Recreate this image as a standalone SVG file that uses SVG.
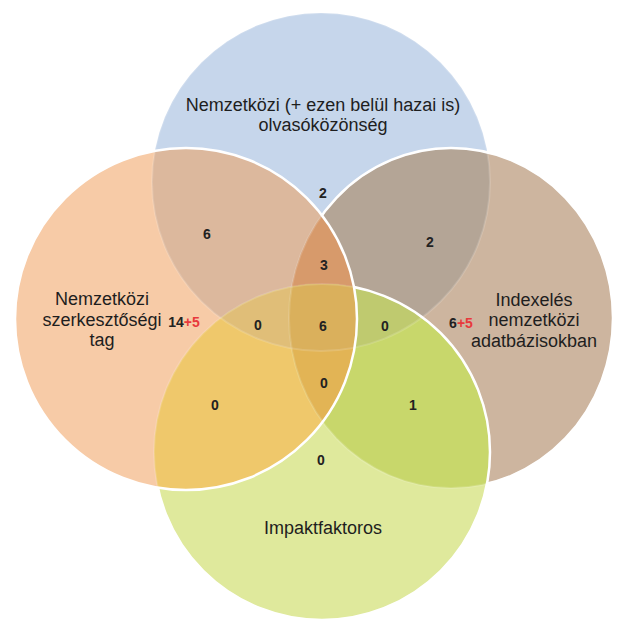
<svg xmlns="http://www.w3.org/2000/svg" width="622" height="626" viewBox="0 0 622 626">
<style>
.lbl{font-family:"Liberation Sans",Arial,sans-serif;font-size:18px;fill:#1e1e1e;text-anchor:middle}
.num{font-family:"Liberation Sans",Arial,sans-serif;font-size:14px;font-weight:bold;fill:#222;text-anchor:middle}
.red{fill:#e8393c}
.edge{fill:none;stroke:#fff;stroke-width:2.5}
.faint{fill:none;stroke:#fff;stroke-width:2;stroke-opacity:0.15}
</style>
<defs>
<circle id="B" cx="321" cy="182" r="169"/>
<circle id="O" cx="186" cy="319" r="171"/>
<ellipse id="R" cx="451" cy="318" rx="162" ry="170"/>
<circle id="G" cx="322" cy="452" r="168"/>
<clipPath id="cB"><use href="#B"/></clipPath>
<clipPath id="cO"><use href="#O"/></clipPath>
<clipPath id="cR"><use href="#R"/></clipPath>
<clipPath id="cG"><use href="#G"/></clipPath>
<mask id="mOutO" maskUnits="userSpaceOnUse" x="0" y="0" width="622" height="626">
<rect x="0" y="0" width="622" height="626" fill="#fff"/>
<use href="#O" fill="#000"/>
</mask>
<mask id="mOutOG" maskUnits="userSpaceOnUse" x="0" y="0" width="622" height="626">
<rect x="0" y="0" width="622" height="626" fill="#fff"/>
<use href="#O" fill="#000"/>
<use href="#G" fill="#000"/>
</mask>
</defs>
<rect x="0" y="0" width="622" height="626" fill="#fff"/>
<g id="venn-regions">
<use href="#B" fill="#c6d6eb"/>
<use href="#R" fill="#cdb59f"/>
<use href="#G" fill="#dfe99c"/>
<use href="#O" fill="#f7cba7"/>
<g clip-path="url(#cB)"><use href="#O" fill="#dcb89d"/><use href="#R" fill="#b4a596"/><use href="#G" fill="#c7d895"/></g>
<g clip-path="url(#cO)"><use href="#R" fill="#e2ac80"/><use href="#G" fill="#efc86b"/></g>
<g clip-path="url(#cR)"><use href="#G" fill="#c8d76b"/></g>
<g clip-path="url(#cB)"><g clip-path="url(#cO)"><use href="#R" fill="#d79a6b"/><use href="#G" fill="#e0be78"/></g></g>
<g clip-path="url(#cB)"><g clip-path="url(#cR)"><use href="#G" fill="#bfca6f"/></g></g>
<g clip-path="url(#cO)"><g clip-path="url(#cR)"><use href="#G" fill="#e2b455"/></g></g>
<g clip-path="url(#cB)"><g clip-path="url(#cO)"><g clip-path="url(#cR)"><use href="#G" fill="#dab05c"/></g></g></g>
<use href="#B" class="faint"/>
<use href="#R" class="faint"/>
<use href="#G" class="faint"/>
<use href="#R" class="edge" mask="url(#mOutOG)"/>
<use href="#G" class="edge" mask="url(#mOutO)"/>
<use href="#O" class="edge"/>
</g>
<g id="node-olvaso">
<text class="lbl" x="323" y="111">Nemzetközi (+ ezen belül hazai is)</text>
<text class="lbl" x="323" y="131">olvasóközönség</text>
</g>
<g id="node-szerkeszto">
<text class="lbl" x="102" y="305">Nemzetközi</text>
<text class="lbl" x="102" y="325.5">szerkesztőségi</text>
<text class="lbl" x="102" y="346">tag</text>
</g>
<g id="node-index">
<text class="lbl" x="534" y="306">Indexelés</text>
<text class="lbl" x="534" y="326">nemzetközi</text>
<text class="lbl" x="534" y="346.5">adatbázisokban</text>
</g>
<g id="node-impakt">
<text class="lbl" x="323" y="534">Impaktfaktoros</text>
</g>
<g id="counts">
<text class="num" x="323" y="198">2</text>
<text class="num" x="207" y="239">6</text>
<text class="num" x="430" y="247">2</text>
<text class="num" x="324" y="270">3</text>
<text class="num" x="258" y="330">0</text>
<text class="num" x="323" y="331">6</text>
<text class="num" x="385" y="331">0</text>
<text class="num" x="324" y="388">0</text>
<text class="num" x="215" y="410">0</text>
<text class="num" x="413" y="410">1</text>
<text class="num" x="321" y="465">0</text>
<text class="num" x="184" y="327">14<tspan class="red">+5</tspan></text>
<text class="num" x="461" y="328">6<tspan class="red">+5</tspan></text>
</g>
</svg>
